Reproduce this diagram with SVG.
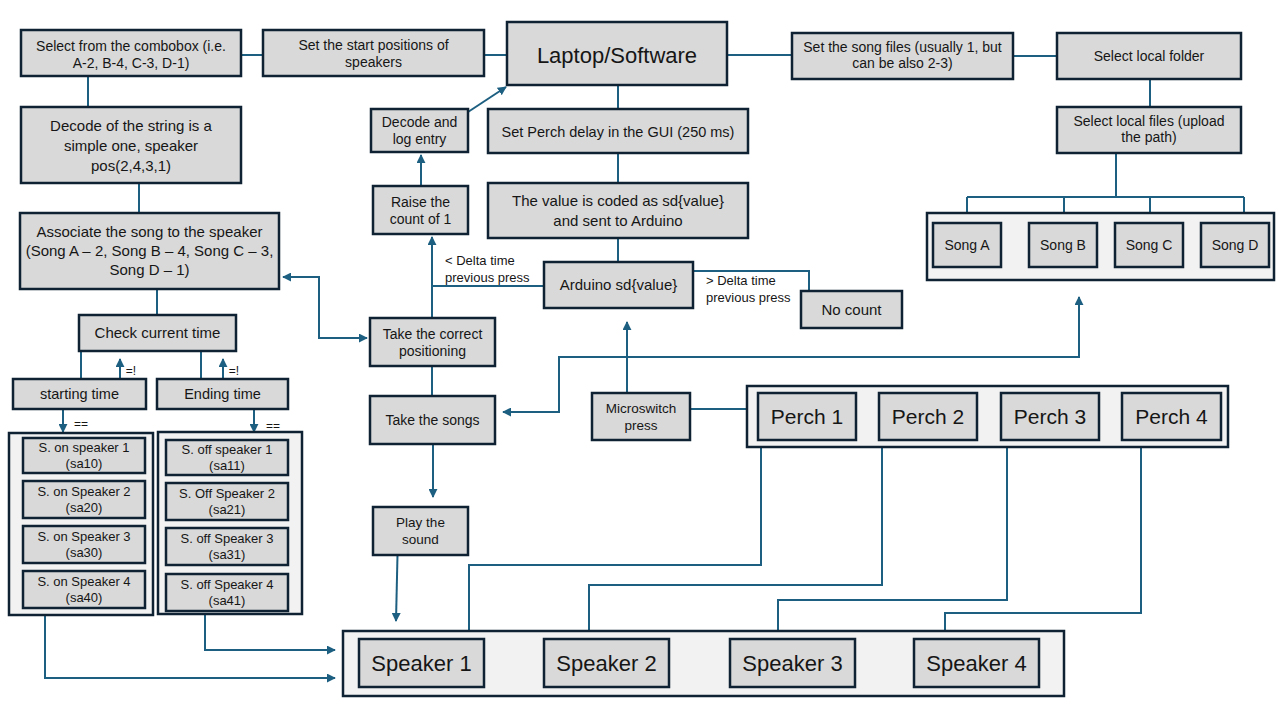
<svg xmlns="http://www.w3.org/2000/svg" width="1280" height="720" viewBox="0 0 1280 720">
<defs>
<style>
.box{fill:#d9d9d9;stroke:#0e2233;stroke-width:2.5}
.cont{fill:#f2f2f2;stroke:#0e2233;stroke-width:2.5}
.c{fill:none;stroke:#1d5f80;stroke-width:2}
.t{font-family:"Liberation Sans",Arial,sans-serif;fill:#161616;text-anchor:middle}
.l{font-family:"Liberation Sans",Arial,sans-serif;fill:#161616;text-anchor:start}
</style>
<marker id="ah" viewBox="0 0 10 10" refX="9" refY="5" markerWidth="9" markerHeight="9" markerUnits="userSpaceOnUse" orient="auto-start-reverse">
<path d="M0,0 L10,5 L0,10 z" fill="#1d5f80"/>
</marker>
</defs>
<rect width="1280" height="720" fill="#ffffff"/>

<g id="connectors">
<path class="c" d="M241,55 H263"/>
<path class="c" d="M484,55 H507"/>
<path class="c" d="M727,55 H792"/>
<path class="c" d="M1013,56 H1057"/>
<path class="c" d="M1150,79 V107"/>
<path class="c" d="M1116,153 V197 M967,197 H1244 M967,197 V223 M1064,197 V223 M1150,197 V223 M1244,197 V223"/>
<path class="c" d="M88,77 V107"/>
<path class="c" d="M139,183 V213"/>
<path class="c" d="M157,289 V315"/>
<path class="c" d="M81,351 V379"/>
<path class="c" d="M120,379 V359" marker-end="url(#ah)"/>
<path class="c" d="M201,351 V379"/>
<path class="c" d="M223,379 V359" marker-end="url(#ah)"/>
<path class="c" d="M63,409 V432" marker-end="url(#ah)"/>
<path class="c" d="M254,409 V432" marker-end="url(#ah)"/>
<path class="c" d="M45,615 V678 H335" marker-end="url(#ah)"/>
<path class="c" d="M205,614 V650 H335" marker-end="url(#ah)"/>
<path class="c" d="M618,85 V109"/>
<path class="c" d="M618,153 V183"/>
<path class="c" d="M618,238 V262"/>
<path class="c" d="M544,286 H432"/>
<path class="c" d="M432,318 V237" marker-end="url(#ah)"/>
<path class="c" d="M421,186 V155" marker-end="url(#ah)"/>
<path class="c" d="M468,112 L506,87" marker-end="url(#ah)"/>
<path class="c" d="M693,271 H809 V291"/>
<path class="c" d="M283,277 H319 V338 H367" marker-start="url(#ah)" marker-end="url(#ah)"/>
<path class="c" d="M432,366 V396"/>
<path class="c" d="M627,393 V322" marker-end="url(#ah)"/>
<path class="c" d="M690,409 H747"/>
<path class="c" d="M503,412 H559 V357 H1079 V297" marker-start="url(#ah)" marker-end="url(#ah)"/>
<path class="c" d="M433,444 V497" marker-end="url(#ah)"/>
<path class="c" d="M397.5,555 L396,621" marker-end="url(#ah)"/>
<path class="c" d="M761,440 V565 H469 V639"/>
<path class="c" d="M882,440 V585 H589 V639"/>
<path class="c" d="M1007,440 V600 H778 V639"/>
<path class="c" d="M1141,440 V613 H945 V639"/>
</g>

<g id="edge-labels">
<text class="t" x="131" y="375" font-size="12">=!</text>
<text class="t" x="234" y="375" font-size="12">=!</text>
<text class="t" x="81" y="428" font-size="12">==</text>
<text class="t" x="273" y="430" font-size="12">==</text>
<text class="l" x="445" y="265" font-size="13">&lt; Delta time</text>
<text class="l" x="445" y="282" font-size="13">previous press</text>
<text class="l" x="706" y="285" font-size="13">&gt; Delta time</text>
<text class="l" x="706" y="302" font-size="13">previous press</text>
</g>

<g id="combobox"><rect class="box" x="21" y="30" width="220" height="46"/>
<text class="t" x="131" y="51" font-size="14">Select from the combobox (i.e.</text>
<text class="t" x="131" y="68" font-size="14">A-2, B-4, C-3, D-1)</text></g>

<g id="set-start"><rect class="box" x="263" y="30" width="221" height="46"/>
<text class="t" x="373.5" y="50" font-size="14">Set the start positions of</text>
<text class="t" x="373.5" y="67" font-size="14">speakers</text></g>

<g id="laptop"><rect class="box" x="507" y="22" width="220" height="63"/>
<text class="t" x="617" y="63" font-size="22">Laptop/Software</text></g>

<g id="song-files"><rect class="box" x="792" y="33" width="221" height="46"/>
<text class="t" x="902.5" y="52" font-size="14">Set the song files (usually 1, but</text>
<text class="t" x="902.5" y="68" font-size="14">can be also 2-3)</text></g>

<g id="local-folder"><rect class="box" x="1057" y="33" width="184" height="46"/>
<text class="t" x="1149" y="61" font-size="14">Select local folder</text></g>

<g id="local-files"><rect class="box" x="1057" y="107" width="184" height="46"/>
<text class="t" x="1149" y="126" font-size="14">Select local files (upload</text>
<text class="t" x="1149" y="142" font-size="14">the path)</text></g>

<g id="songs"><rect class="cont" x="927" y="213" width="347" height="67"/>
<rect class="box" x="933" y="223" width="68" height="44"/>
<rect class="box" x="1029" y="223" width="68" height="44"/>
<rect class="box" x="1115" y="223" width="68" height="44"/>
<rect class="box" x="1201" y="223" width="68" height="44"/>
<text class="t" x="967" y="250" font-size="14">Song A</text>
<text class="t" x="1063" y="250" font-size="14">Song B</text>
<text class="t" x="1149" y="250" font-size="14">Song C</text>
<text class="t" x="1235" y="250" font-size="14">Song D</text></g>

<g id="decode-string"><rect class="box" x="21" y="107" width="220" height="76"/>
<text class="t" x="131" y="131" font-size="15">Decode of the string is a</text>
<text class="t" x="131" y="151" font-size="15">simple one, speaker</text>
<text class="t" x="131" y="171" font-size="15">pos(2,4,3,1)</text></g>

<g id="associate"><rect class="box" x="20" y="213" width="259" height="76"/>
<text class="t" x="149.5" y="237" font-size="15">Associate the song to the speaker</text>
<text class="t" x="149.5" y="256" font-size="15">(Song A – 2, Song B – 4, Song C – 3,</text>
<text class="t" x="149.5" y="275" font-size="15">Song D – 1)</text></g>

<g id="check-time"><rect class="box" x="79" y="315" width="157" height="36"/>
<text class="t" x="157.5" y="338" font-size="15">Check current time</text></g>

<g id="starting-time"><rect class="box" x="13" y="379" width="133" height="30"/>
<text class="t" x="79.5" y="399" font-size="14.5">starting time</text></g>

<g id="ending-time"><rect class="box" x="157" y="379" width="131" height="30"/>
<text class="t" x="222.5" y="399" font-size="14.5">Ending time</text></g>

<g id="speaker-on"><rect class="cont" x="9" y="433" width="144" height="182"/>
<rect class="box" x="23" y="438" width="122" height="35"/>
<rect class="box" x="23" y="481" width="122" height="37"/>
<rect class="box" x="23" y="526" width="122" height="37"/>
<rect class="box" x="23" y="571" width="122" height="37"/>
<text class="t" x="84" y="452" font-size="13">S. on speaker 1</text>
<text class="t" x="84" y="468" font-size="13">(sa10)</text>
<text class="t" x="84" y="496" font-size="13">S. on Speaker 2</text>
<text class="t" x="84" y="512" font-size="13">(sa20)</text>
<text class="t" x="84" y="541" font-size="13">S. on Speaker 3</text>
<text class="t" x="84" y="557" font-size="13">(sa30)</text>
<text class="t" x="84" y="586" font-size="13">S. on Speaker 4</text>
<text class="t" x="84" y="602" font-size="13">(sa40)</text></g>

<g id="speaker-off"><rect class="cont" x="158" y="432" width="144" height="182"/>
<rect class="box" x="166" y="440" width="122" height="35"/>
<rect class="box" x="166" y="483" width="122" height="37"/>
<rect class="box" x="166" y="528" width="122" height="37"/>
<rect class="box" x="166" y="574" width="122" height="37"/>
<text class="t" x="227" y="454" font-size="13">S. off speaker 1</text>
<text class="t" x="227" y="470" font-size="13">(sa11)</text>
<text class="t" x="227" y="498" font-size="13">S. Off Speaker 2</text>
<text class="t" x="227" y="514" font-size="13">(sa21)</text>
<text class="t" x="227" y="543" font-size="13">S. off Speaker 3</text>
<text class="t" x="227" y="559" font-size="13">(sa31)</text>
<text class="t" x="227" y="589" font-size="13">S. off Speaker 4</text>
<text class="t" x="227" y="605" font-size="13">(sa41)</text></g>

<g id="decode-log"><rect class="box" x="371" y="109" width="97" height="43"/>
<text class="t" x="419.5" y="127" font-size="14">Decode and</text>
<text class="t" x="419.5" y="144" font-size="14">log entry</text></g>

<g id="raise-count"><rect class="box" x="373" y="186" width="95" height="48"/>
<text class="t" x="420.5" y="207" font-size="14">Raise the</text>
<text class="t" x="420.5" y="224" font-size="14">count of 1</text></g>

<g id="set-perch-delay"><rect class="box" x="488" y="109" width="260" height="44"/>
<text class="t" x="618" y="137" font-size="14.5">Set Perch  delay in the GUI (250 ms)</text></g>

<g id="value-coded"><rect class="box" x="488" y="183" width="260" height="55"/>
<text class="t" x="618" y="206" font-size="15">The value is coded as sd{value}</text>
<text class="t" x="618" y="226" font-size="15">and sent to Arduino</text></g>

<g id="arduino"><rect class="box" x="544" y="262" width="149" height="46"/>
<text class="t" x="618.5" y="290" font-size="15">Arduino sd{value}</text></g>

<g id="no-count"><rect class="box" x="801" y="291" width="101" height="37"/>
<text class="t" x="851.5" y="315" font-size="15">No count</text></g>

<g id="take-positioning"><rect class="box" x="370" y="318" width="125" height="48"/>
<text class="t" x="432.5" y="339" font-size="14">Take the correct</text>
<text class="t" x="432.5" y="356" font-size="14">positioning</text></g>

<g id="take-songs"><rect class="box" x="370" y="396" width="125" height="48"/>
<text class="t" x="432.5" y="425" font-size="14">Take the songs</text></g>

<g id="microswitch"><rect class="box" x="592" y="393" width="98" height="47"/>
<text class="t" x="641" y="413" font-size="13.5">Microswitch</text>
<text class="t" x="641" y="430" font-size="13.5">press</text></g>

<g id="perches"><rect class="cont" x="747" y="386" width="481" height="61"/>
<rect class="box" x="758" y="393" width="98" height="47"/>
<rect class="box" x="879" y="393" width="98" height="47"/>
<rect class="box" x="1001" y="393" width="98" height="47"/>
<rect class="box" x="1122" y="393" width="99" height="47"/>
<text class="t" x="807" y="424" font-size="21">Perch 1</text>
<text class="t" x="928" y="424" font-size="21">Perch 2</text>
<text class="t" x="1050" y="424" font-size="21">Perch 3</text>
<text class="t" x="1171.5" y="424" font-size="21">Perch 4</text></g>

<g id="play-sound"><rect class="box" x="373" y="507" width="95" height="48"/>
<text class="t" x="420.5" y="527" font-size="13.5">Play the</text>
<text class="t" x="420.5" y="544" font-size="13.5">sound</text></g>

<g id="speakers"><rect class="cont" x="343" y="631" width="721" height="65"/>
<rect class="box" x="359" y="639" width="125" height="48"/>
<rect class="box" x="544" y="639" width="125" height="48"/>
<rect class="box" x="730" y="639" width="125" height="48"/>
<rect class="box" x="914" y="639" width="125" height="48"/>
<text class="t" x="421.5" y="671" font-size="22">Speaker 1</text>
<text class="t" x="606.5" y="671" font-size="22">Speaker 2</text>
<text class="t" x="792.5" y="671" font-size="22">Speaker 3</text>
<text class="t" x="976.5" y="671" font-size="22">Speaker 4</text></g>
</svg>
